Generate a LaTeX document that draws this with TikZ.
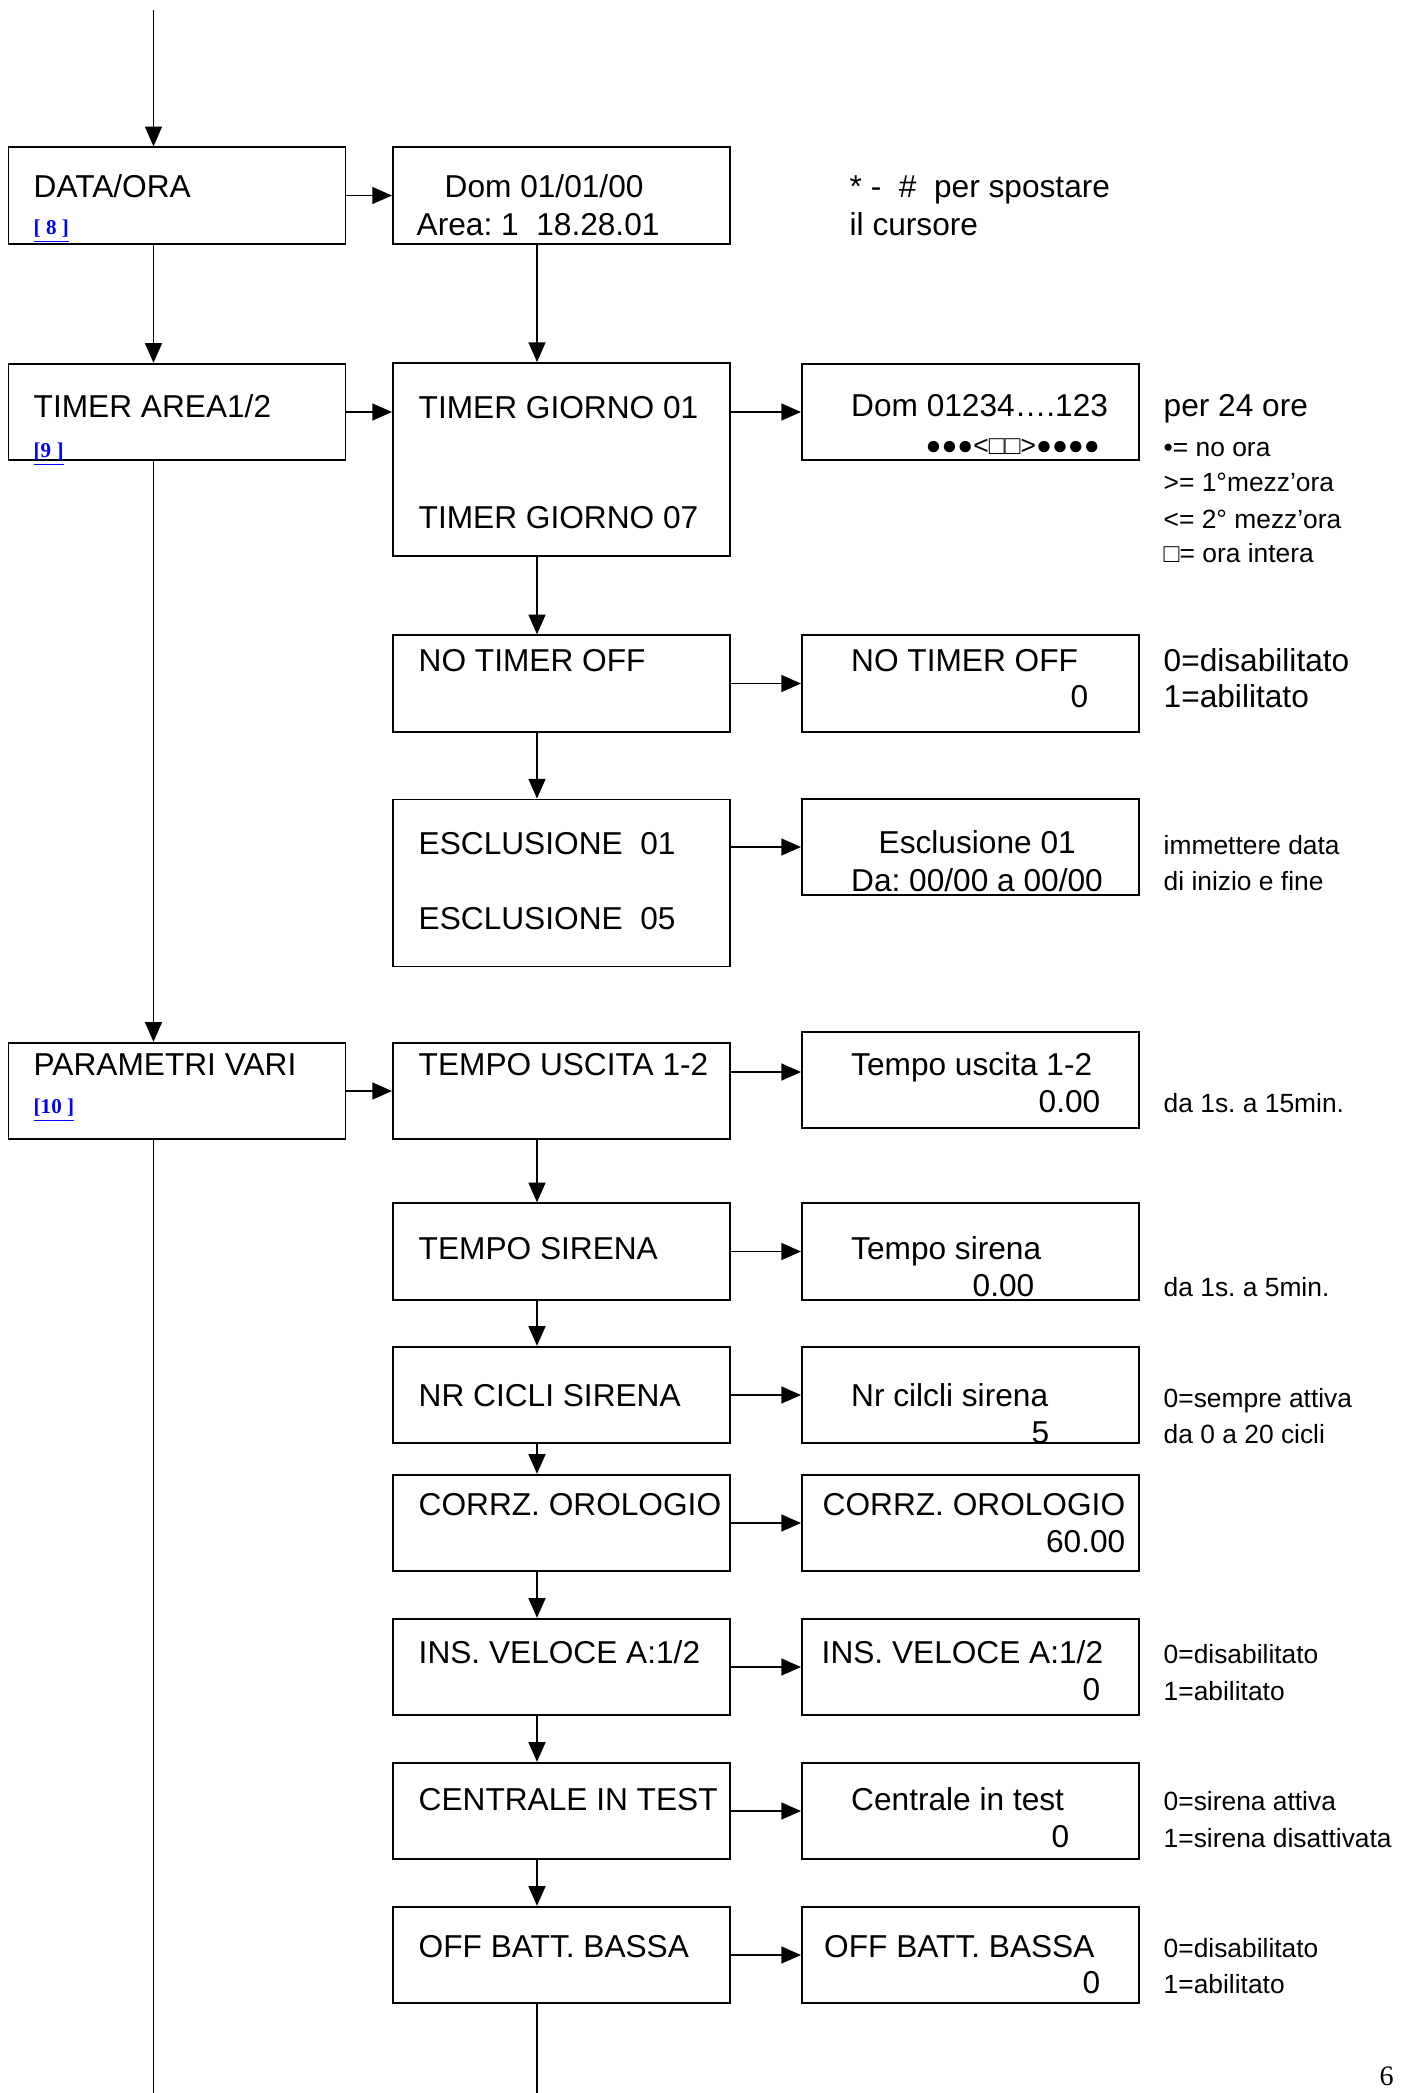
\documentclass[tikz,border=0pt]{standalone}
\usepackage{fontspec}
\setmainfont{Liberation Sans}
\newfontfamily\linkfont{Liberation Serif}
\usetikzlibrary{arrows.meta}
\definecolor{linkblue}{RGB}{0,0,255}
\frenchspacing
\newcommand{\menubox}[4][]{\node[box,#1] at (#2) (#3) {#4}}
\newcommand{\linkref}[1]{\textcolor{linkblue}{\linkfont\bfseries\underline{#1}}}

\begin{document}
\begin{tikzpicture}[x=0.01cm,y=-0.01cm,
	box/.style={draw,rectangle,inner sep=0pt,minimum width=3.37cm,minimum height=0.965cm,line width=0.5pt},
	lbl/.style={anchor=base west,inner sep=0pt,font=\fontsize{9}{10.6}\selectfont},
	val/.style={anchor=base east,inner sep=0pt,font=\fontsize{9}{10.6}\selectfont},
	note/.style={anchor=base west,inner sep=0pt,font=\fontsize{7.5}{9}\selectfont},
	lnk/.style={anchor=base west,inner sep=0pt,font=\fontsize{6}{7}\selectfont},
	arr/.style={line width=0.5pt,-{Triangle[length=5.6pt,width=4.8pt]}},
	wire/.style={line width=0.5pt}]
					\useasboundingbox (0,0) rectangle (1410,2093);
					
					\coordinate (top) at (153.5,10);
					\coordinate (end1) at (153.5,2093);
					\coordinate (c2) at (537,0);
					\coordinate (end2) at (537,2093);
					
					\menubox{177,195.5}{data}{};
					\menubox{561.5,195.5}{dataora}{};
					\menubox{177,412}{timer}{};
					\menubox[minimum height=1.93cm]{561.5,459.5}{giorno}{};
					\menubox{970.5,412}{giornoset}{};
					\menubox{561.5,683.5}{notimer}{};
					\menubox{970.5,683.5}{notimerset}{};
					\menubox[minimum height=1.67cm]{561.5,883}{escl}{};
					\menubox{970.5,847}{esclset}{};
					\menubox{177,1091}{param}{};
					\menubox{561.5,1091}{tuscita}{};
					\menubox{970.5,1080}{tuscitaset}{};
					\menubox{561.5,1251.5}{tsirena}{};
					\menubox{970.5,1251.5}{tsirenaset}{};
					\menubox{561.5,1395}{cicli}{};
					\menubox{970.5,1395}{cicliset}{};
					\menubox{561.5,1523}{orologio}{};
					\menubox{970.5,1523}{orologioset}{};
					\menubox{561.5,1667}{veloce}{};
					\menubox{970.5,1667}{veloceset}{};
					\menubox{561.5,1811}{test}{};
					\menubox{970.5,1811}{testset}{};
					\menubox{561.5,1955}{batt}{};
					\menubox{970.5,1955}{battset}{};
					
					\node[lbl] (dataT) at (33,197) {DATA/ORA};
					\node[lnk] (dataL) at (33,234) {\linkref{[ 8 ]}};
					\node[lbl] (dataoraA) at (444,197) {Dom 01/01/00};
					\node[lbl] (dataoraB) at (416,235) {Area: 1\ \ 18.28.01};
					\node[lbl] (cursA) at (849,197) {*\ -\ \ \#\ \ per spostare};
					\node[lbl] (cursB) at (849,235) {il cursore};
					
					\node[lbl] (timerT) at (33,417) {TIMER AREA1/2};
					\node[lnk] (timerL) at (33,457) {\linkref{[9 ]}};
					\node[lbl] (giornoA) at (418,418) {TIMER GIORNO 01};
					\node[lbl] (giornoB) at (418,528) {TIMER GIORNO 07};
					\node[lbl] (giornosetA) at (850.5,416) {Dom 01234….123};
					\node[note,anchor=base east] (giornosetB) at (1100.5,454) {●●●<□□>●●●●};
					\node[lbl] (oreA) at (1163,416) {per 24 ore};
					\node[note] (oreB) at (1163,456) {•= no ora};
					\node[note] (oreC) at (1163,491.5) {>= 1°mezz’ora};
					\node[note] (oreD) at (1163,528) {<= 2° mezz’ora};
					\node[note] (oreE) at (1163,562) {□= ora intera};
					
					\node[lbl] (notimerT) at (418,671) {NO TIMER OFF};
					\node[lbl] (notimersetA) at (850.5,671) {NO TIMER OFF};
					\node[val] (notimersetB) at (1089,707.5) {0};
					\node[lbl] (abilA) at (1163,671) {0=disabilitato};
					\node[lbl] (abilB) at (1163,707.5) {1=abilitato};
					
					\node[lbl] (esclA) at (418,854.5) {ESCLUSIONE\ \ 01};
					\node[lbl] (esclB) at (418,929) {ESCLUSIONE\ \ 05};
					\node[lbl] (esclsetA) at (878,853.5) {Esclusione 01};
					\node[lbl] (esclsetB) at (850.5,891) {Da: 00/00 a 00/00};
					\node[note] (inizioA) at (1163,854) {immettere data};
					\node[note] (inizioB) at (1163,890.5) {di inizio e fine};
					
					\node[lbl] (paramT) at (33,1075) {PARAMETRI VARI};
					\node[lnk] (paramL) at (33,1113) {\linkref{[10 ]}};
					\node[lbl] (tuscitaT) at (418,1075) {TEMPO USCITA 1-2};
					\node[lbl] (tuscitasetA) at (850.5,1075) {Tempo uscita 1-2};
					\node[val] (tuscitasetB) at (1101,1112.5) {0.00};
					\node[note] (tuscitaN) at (1163,1112.5) {da 1s. a 15min.};
					
					\node[lbl] (tsirenaT) at (418,1259.5) {TEMPO SIRENA};
					\node[lbl] (tsirenasetA) at (850.5,1259.5) {Tempo sirena};
					\node[lbl] (tsirenasetB) at (972,1296.5) {0.00};
					\node[note] (tsirenaN) at (1163,1296.5) {da 1s. a 5min.};
					
					\node[lbl] (cicliT) at (418,1406.5) {NR CICLI SIRENA};
					\node[lbl] (ciclisetA) at (850.5,1406.5) {Nr cilcli sirena};
					\node[lbl] (ciclisetB) at (1031,1443.5) {5};
					\node[note] (cicliA) at (1163,1407) {0=sempre attiva};
					\node[note] (cicliB) at (1163,1443) {da 0 a 20 cicli};
					
					\node[lbl] (orologioT) at (418,1515.5) {CORRZ. OROLOGIO};
					\node[lbl] (orologiosetA) at (822,1515.5) {CORRZ. OROLOGIO};
					\node[val] (orologiosetB) at (1126,1552.5) {60.00};
					
					\node[lbl] (veloceT) at (418,1663.5) {INS. VELOCE A:1/2};
					\node[lbl] (velocesetA) at (821,1663.5) {INS. VELOCE A:1/2};
					\node[val] (velocesetB) at (1101,1700.5) {0};
					\node[note] (veloceA) at (1163,1663.5) {0=disabilitato};
					\node[note] (veloceB) at (1163,1700) {1=abilitato};
					
					\node[lbl] (testT) at (418,1810) {CENTRALE IN TEST};
					\node[lbl] (testsetA) at (850.5,1810) {Centrale in test};
					\node[val] (testsetB) at (1070,1847.5) {0};
					\node[note] (testA) at (1163,1810) {0=sirena attiva};
					\node[note] (testB) at (1163,1847) {1=sirena disattivata};
					
					\node[lbl] (battT) at (418,1957.5) {OFF BATT. BASSA};
					\node[lbl] (battsetA) at (823.5,1957.5) {OFF BATT. BASSA};
					\node[val] (battsetB) at (1101,1993.5) {0};
					\node[note] (battA) at (1163,1957.5) {0=disabilitato};
					\node[note] (battB) at (1163,1993.5) {1=abilitato};
					
					\node[anchor=base west,inner sep=0pt,font=\linkfont\fontsize{8}{9}\selectfont] (page) at (1379,2085) {6};
					
					\draw[arr] (top) -- (top |- data.north);
					\draw[arr] (data.south -| top) -- (timer.north -| top);
					\draw[arr] (timer.south -| top) -- (param.north -| top);
					\draw[wire] (param.south -| top) -- (end1);
					
					\draw[arr] (dataora.south -| c2) -- (giorno.north -| c2);
					\draw[arr] (giorno.south -| c2) -- (notimer.north -| c2);
					\draw[arr] (notimer.south -| c2) -- (escl.north -| c2);
					\draw[arr] (tuscita.south -| c2) -- (tsirena.north -| c2);
					\draw[arr] (tsirena.south -| c2) -- (cicli.north -| c2);
					\draw[arr] (cicli.south -| c2) -- (orologio.north -| c2);
					\draw[arr] (orologio.south -| c2) -- (veloce.north -| c2);
					\draw[arr] (veloce.south -| c2) -- (test.north -| c2);
					\draw[arr] (test.south -| c2) -- (batt.north -| c2);
					\draw[wire] (batt.south -| c2) -- (end2);
					
					\draw[arr] (data) -- (dataora);
					\draw[arr] (timer.east) -- (timer.east -| giorno.west);
					\draw[arr] (giornoset.west -| giorno.east) -- (giornoset.west);
					\draw[arr] (notimer) -- (notimerset);
					\draw[arr] (esclset.west -| escl.east) -- (esclset.west);
					\draw[arr] (param) -- (tuscita);
					\draw[arr] (tuscita.east |- 0,1072) -- (tuscitaset.west |- 0,1072);
					\draw[arr] (tsirena) -- (tsirenaset);
					\draw[arr] (cicli) -- (cicliset);
					\draw[arr] (orologio) -- (orologioset);
					\draw[arr] (veloce) -- (veloceset);
					\draw[arr] (test) -- (testset);
					\draw[arr] (batt) -- (battset);
				\end{tikzpicture}
\end{document}
